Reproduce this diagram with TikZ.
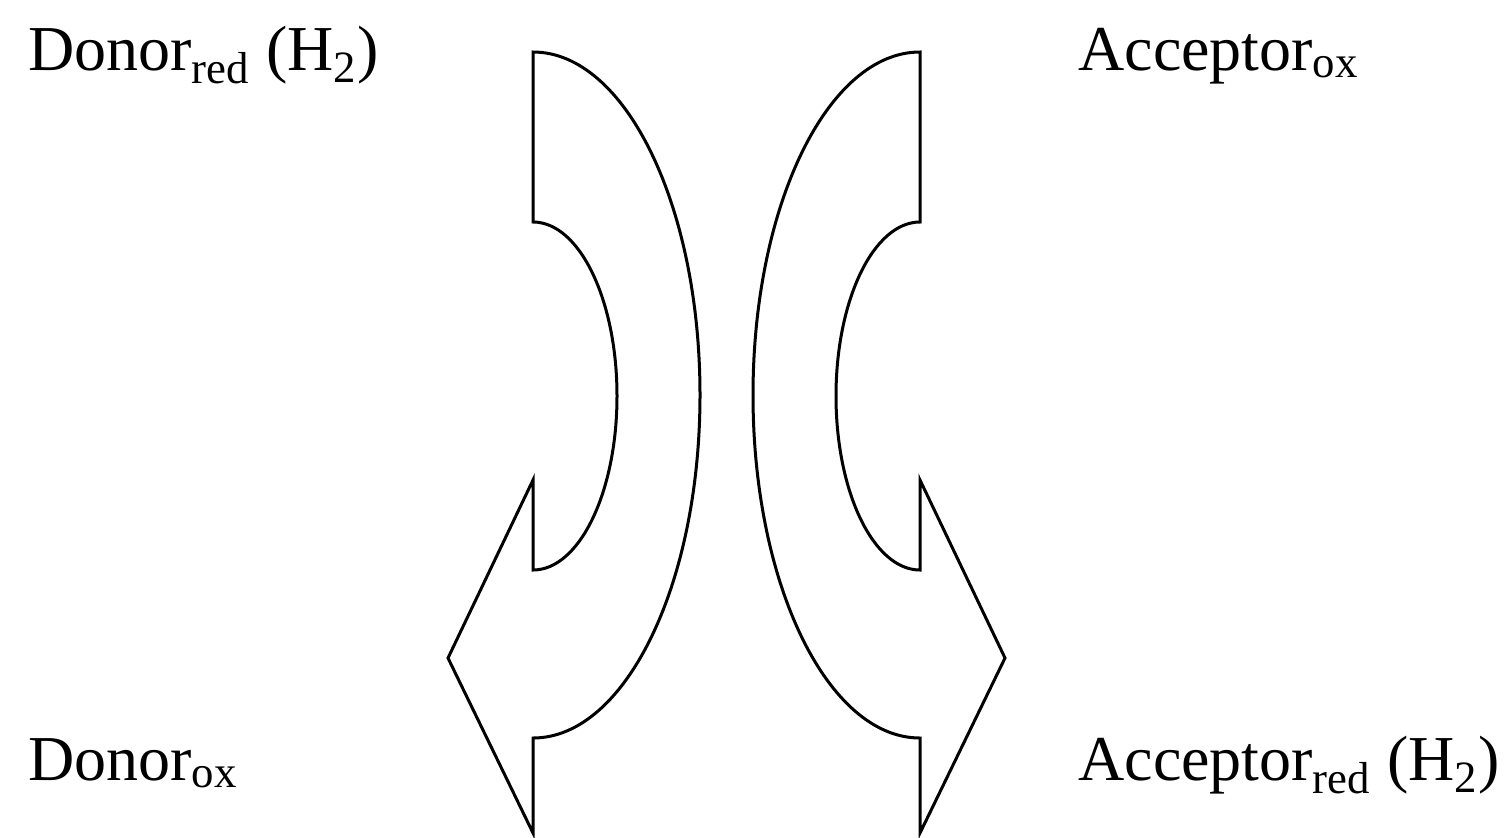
\documentclass[tikz,border=0pt]{standalone}
\usepackage{fontspec}
\setmainfont{Liberation Serif}
\begin{document}
\begin{tikzpicture}[x=0.5pt,y=0.5pt,
  lbl/.style={anchor=base west,inner sep=0pt,font=\fontsize{32}{38}\selectfont},
  bigarrow/.style={draw=black,line width=1.5pt,line join=miter,fill=white}]
\useasboundingbox (0,0) rectangle (1509,-837);
% left curved arrow
\draw[bigarrow] (533,-52) arc[start angle=90,end angle=-90,x radius=167,y radius=343]
  -- (533,-833) -- (448,-658) -- (533,-480) -- (533,-570)
  arc[start angle=-90,end angle=90,x radius=84,y radius=174] -- cycle;
% right curved arrow
\draw[bigarrow] (920,-52) arc[start angle=90,end angle=270,x radius=167,y radius=343]
  -- (920,-833) -- (1005,-658) -- (920,-480) -- (920,-570)
  arc[start angle=270,end angle=90,x radius=84,y radius=174] -- cycle;
\node[lbl] (dred) at (28,-70) {Donor\textsubscript{red} (H\textsubscript{2})};
\node[lbl] (aox) at (1078,-70) {Acceptor\textsubscript{ox}};
\node[lbl] (dox) at (28,-780) {Donor\textsubscript{ox}};
\node[lbl] (ared) at (1078,-780) {Acceptor\textsubscript{red} (H\textsubscript{2})};
\end{tikzpicture}
\end{document}
